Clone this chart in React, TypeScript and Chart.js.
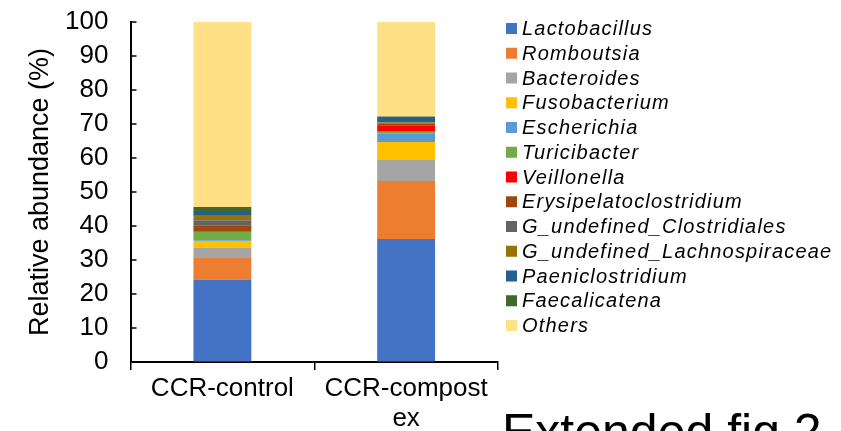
import React, { useEffect, useRef } from "react";
import { Chart, registerables } from "chart.js";

Chart.register(...registerables);

const categories: (string | string[])[] = ["CCR-control", ["CCR-compost", "ex"]];
const yTicks = [0, 10, 20, 30, 40, 50, 60, 70, 80, 90, 100];

const lactobacillus = [24.3, 36.2];
const romboutsia = [6.3, 17.0];
const bacteroides = [3.0, 6.2];
const fusobacterium = [2.0, 5.3];
const escherichia = [0.2, 2.6];
const turicibacter = [2.4, 0.4];
const veillonella = [0.2, 1.9];
const erysipelatoclostridium = [1.8, 0.5];
const gUndefinedClostridiales = [1.5, 0.3];
const gUndefinedLachnospiraceae = [1.5, 0.2];
const paeniclostridium = [1.2, 1.2];
const faecalicatena = [1.2, 0.4];
const others = [54.4, 27.8];

const genusNames = [
  "Lactobacillus",
  "Romboutsia",
  "Bacteroides",
  "Fusobacterium",
  "Escherichia",
  "Turicibacter",
  "Veillonella",
  "Erysipelatoclostridium",
  "G_undefined_Clostridiales",
  "G_undefined_Lachnospiraceae",
  "Paeniclostridium",
  "Faecalicatena",
  "Others",
];
const genusValues = [
  lactobacillus,
  romboutsia,
  bacteroides,
  fusobacterium,
  escherichia,
  turicibacter,
  veillonella,
  erysipelatoclostridium,
  gUndefinedClostridiales,
  gUndefinedLachnospiraceae,
  paeniclostridium,
  faecalicatena,
  others,
];
const genusColors = [
  "#4472C4",
  "#ED7D31",
  "#A5A5A5",
  "#FFC000",
  "#5B9BD5",
  "#70AD47",
  "#FF0000",
  "#9E480E",
  "#636363",
  "#997300",
  "#255E91",
  "#43682B",
  "#FFE086",
];

const FONT = "'Liberation Sans', Arial, Helvetica, sans-serif";

const customLegend = {
  id: "customLegend",
  afterDraw(chart: any) {
    const ctx = chart.ctx;
    ctx.save();
    const x0 = 506;
    const y0 = 28.5;
    const step = 24.75;
    ctx.font = `italic 20px ${FONT}`;
    (ctx as any).letterSpacing = "1.2px";
    ctx.textBaseline = "middle";
    ctx.textAlign = "left";
    chart.data.datasets.forEach((ds: any, i: number) => {
      const y = y0 + i * step;
      ctx.fillStyle = ds.backgroundColor;
      ctx.fillRect(x0, y - 5.5, 11, 11);
      ctx.fillStyle = "#000";
      ctx.fillText(ds.label, x0 + 16, y + 1);
    });
    (ctx as any).letterSpacing = "0px";
    ctx.font = `50px ${FONT}`;
    ctx.textBaseline = "alphabetic";
    ctx.fillText("Extended fig 2", 502, 449);
    ctx.restore();
  },
};

const insideTicks = {
  id: "insideTicks",
  afterDraw(chart: any) {
    const ctx = chart.ctx;
    const y = chart.scales.y;
    const left = chart.chartArea.left;
    ctx.save();
    ctx.strokeStyle = "#000";
    ctx.lineWidth = 1.5;
    y.ticks.forEach((t: any) => {
      const py = y.getPixelForValue(t.value);
      ctx.beginPath();
      ctx.moveTo(left, py);
      ctx.lineTo(left + 6, py);
      ctx.stroke();
    });
    ctx.restore();
  },
};

export default function App() {
  const ref = useRef<HTMLCanvasElement>(null);
  useEffect(() => {
    if (!ref.current) return;
    const chart = new Chart(ref.current, {
      type: "bar",
      data: {
        labels: categories as any,
        datasets: genusNames.map((name, i) => ({
          label: name,
          data: genusValues[i],
          backgroundColor: genusColors[i],
          borderWidth: 0,
          barPercentage: 0.315,
          categoryPercentage: 1,
        })),
      },
      options: {
        responsive: false,
        animation: false,
        layout: { padding: { left: 0, right: 343, top: 22, bottom: 0 } },
        plugins: {
          legend: { display: false },
          tooltip: { enabled: false },
        },
        scales: {
          x: {
            stacked: true,
            offset: true,
            afterFit: (s: any) => {
              s.height = 69;
              s.paddingLeft = 0;
              s.paddingRight = 0;
            },
            grid: {
              offset: true,
              drawOnChartArea: false,
              drawTicks: true,
              tickLength: 8,
              color: "#000",
              lineWidth: 1.5,
            },
            border: { display: true, color: "#000", width: 2 },
            ticks: {
              color: "#000",
              font: { family: FONT, size: 26, lineHeight: 1.15 },
              padding: 4,
              maxRotation: 0,
              autoSkip: false,
            },
          },
          y: {
            stacked: true,
            min: 0,
            max: 100,
            afterFit: (s: any) => {
              s.width = 130.5;
              s.paddingTop = 0;
              s.paddingBottom = 0;
            },
            afterBuildTicks: (s: any) => {
              s.ticks = yTicks.map((v) => ({ value: v }));
            },
            grid: { display: true, drawOnChartArea: false, drawTicks: false },
            border: { display: true, color: "#000", width: 2 },
            ticks: {
              color: "#000",
              font: { family: FONT, size: 26 },
              padding: 22,
              autoSkip: false,
            },
            title: {
              display: true,
              text: "Relative abundance (%)",
              color: "#000",
              font: { family: FONT, size: 27 },
              padding: { top: 24, bottom: 0 },
            },
          },
        },
      },
      plugins: [customLegend, insideTicks],
    });
    return () => chart.destroy();
  }, []);
  return (
    <div style={{ position: "fixed", left: 0, top: 0, width: 841, height: 431 }}>
      <canvas ref={ref} width={841} height={431} />
    </div>
  );
}
